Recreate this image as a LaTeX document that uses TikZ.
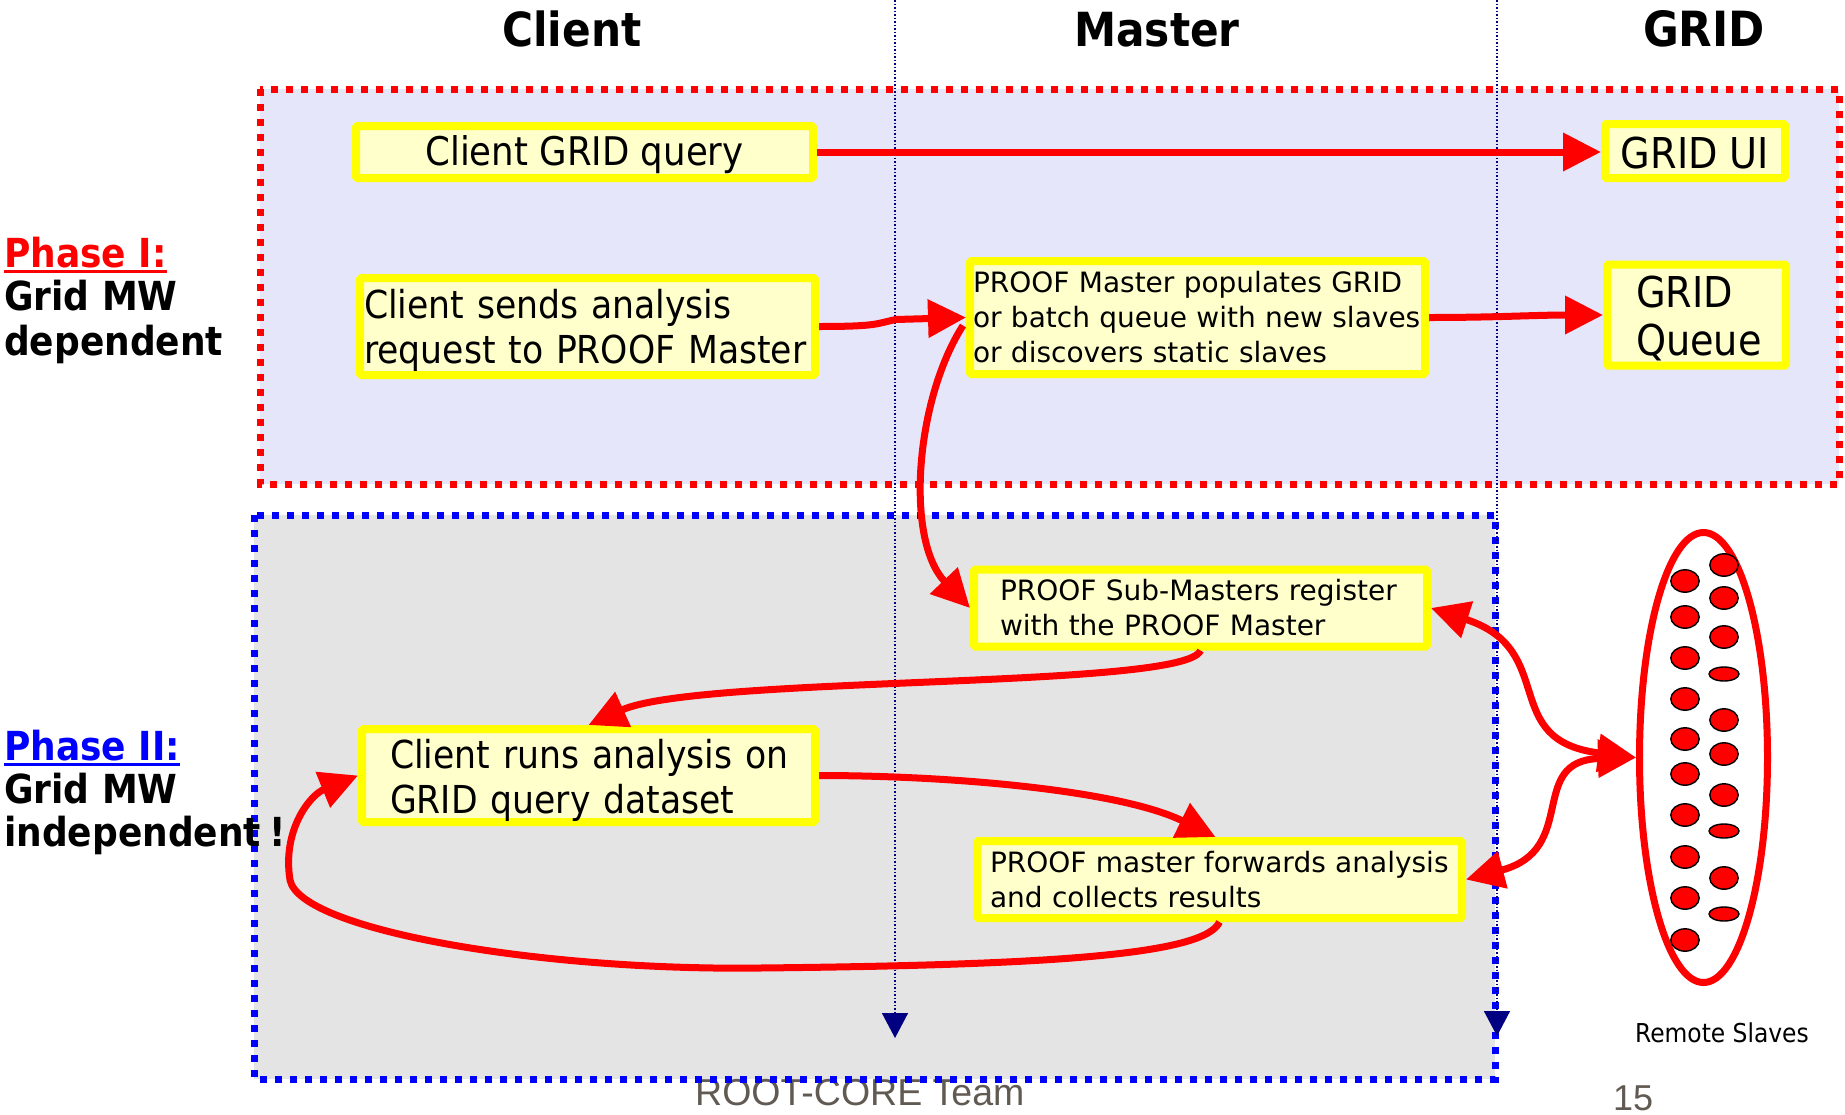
\documentclass[tikz,border=0pt]{standalone}
\usepackage{fontspec}
\setmainfont{DejaVu Sans Condensed}
\newfontfamily\arialf{Liberation Sans}
\newfontfamily\medfont{DejaVu Sans}
\usetikzlibrary{arrows.meta,shapes.geometric,calc}
\definecolor{lav}{RGB}{230,230,250}
\definecolor{lgray}{RGB}{228,228,228}
\definecolor{lyel}{RGB}{255,255,204}
\definecolor{ybord}{RGB}{255,255,0}
\definecolor{navyc}{RGB}{0,0,128}
\definecolor{footg}{RGB}{96,90,82}
\newcommand\myul[1]{\setbox0\hbox{#1}\rlap{\rule[-6pt]{\wd0}{3pt}}\box0}
\newcommand\lift[1]{\rule{0pt}{#1}}
\begin{document}
\begin{tikzpicture}[x=1pt,y=-1pt,
  ybox/.style={draw=ybord, fill=lyel, line width=8pt, rounded corners=1.5pt, inner ysep=0pt},
  bigf/.style={font=\fontsize{38.5}{45}\selectfont},
  gridf/.style={font=\fontsize{42.5}{48}\selectfont},
  medf/.style={font=\medfont\fontsize{28}{35}\selectfont},
  headf/.style={anchor=base, inner sep=0pt, font=\fontsize{47}{56}\selectfont\bfseries},
  phasef/.style={anchor=base west, inner sep=0pt, font=\fontsize{40}{45}\selectfont\bfseries},
  redarr/.style={draw=red, line width=7pt, -{Triangle[length=38pt,width=37pt]}},
  dblarr/.style={draw=red, line width=7pt, {Triangle[length=38pt,width=37pt]}-{Triangle[length=38pt,width=37pt]}},
  vline/.style={draw=navyc, line width=1.5pt, dash pattern=on 1.5pt off 2pt, -{Triangle[length=25pt,width=26pt]}},
  dotst/.style={fill=red, draw=black, line width=1.4pt},
  boxborder/.style={line width=7pt, dash pattern=on 7pt off 8pt}
]
\useasboundingbox (0,0) rectangle (1845,1114);

% phase regions
\fill[lav] (260,89) rectangle (1839,484);
\draw[red, boxborder] (260,89) rectangle (1839,484);
\fill[lgray] (254,515) rectangle (1495,1079);

% footer
\node[anchor=base west, inner sep=0pt, font=\arialf\fontsize{37.5}{44}\selectfont, text=footg] (foot) at (695,1105) {ROOT-CORE Team};
\node[anchor=base west, inner sep=0pt, font=\arialf\fontsize{36}{44}\selectfont, text=footg] (pg) at (1613,1110) {15};

\draw[blue, boxborder] (254,515) rectangle (1495,1079);

% swimlane lines
\coordinate (v1a) at (895,0);
\coordinate (v1b) at (895,1038);
\coordinate (v2a) at (1497,0);
\coordinate (v2b) at (1497,1036);
\draw[vline] (v1a) -- (v1b);
\draw[vline] (v2a) -- (v2b);

% headings
\node[headf] (hclient) at (572,46) {Client};
\node[headf] (hmaster) at (1157,46) {Master};
\node[headf, font=\fontsize{48.5}{56}\selectfont\bfseries] (hgrid) at (1704,46) {GRID};

% phase labels
\node[phasef, text=red] (p1a) at (4,267) {\myul{Phase I:}};
\node[phasef] (p1b) at (4,310) {Grid MW};
\node[phasef] (p1c) at (4,355) {dependent};
\node[phasef, text=blue] (p2a) at (4,760) {\myul{Phase II:}};
\node[phasef] (p2b) at (4,803) {Grid MW};
\node[phasef] (p2c) at (4,846) {independent\hspace{0.2em}!};

% boxes
\node[ybox, font=\fontsize{39.5}{45}\selectfont, minimum width=457pt, minimum height=52pt] (cgq) at (584.5,152) {\lift{35pt}Client GRID query};
\node[ybox, bigf, minimum width=455pt, minimum height=97pt, inner xsep=4pt, text width=447pt, align=left] (csend) at (587.5,326.5)
  {\mbox{\lift{36pt}Client sends analysis}\\\mbox{request to PROOF Master}};
\node[ybox, gridf, minimum width=180pt, minimum height=54pt] (gridui) at (1695,151) {\lift{36.5pt}GRID UI};
\node[ybox, medf, minimum width=455pt, minimum height=113pt, inner xsep=3pt, text width=449pt, align=left] (pop) at (1197.5,317.5)
  {\mbox{PROOF Master populates GRID}\\\mbox{or batch queue with new slaves}\\\mbox{or discovers static slaves}};
\node[ybox, gridf, minimum width=179pt, minimum height=101pt, inner xsep=29pt, text width=121pt, align=left] (gq) at (1696.5,315)
  {\mbox{\lift{38pt}GRID}\\\mbox{Queue}};
\node[ybox, medf, minimum width=453pt, minimum height=77pt, inner xsep=26pt, text width=401pt, align=left] (sub) at (1200.5,608)
  {\mbox{PROOF Sub-Masters register}\\\mbox{with the PROOF Master}};
\node[ybox, bigf, minimum width=453pt, minimum height=93pt, inner xsep=28pt, text width=397pt, align=left] (crun) at (588.5,775.5)
  {\mbox{\lift{38pt}Client runs analysis on}\\\mbox{GRID query dataset}};
\node[ybox, medf, minimum width=485pt, minimum height=77pt, inner xsep=13pt, text width=459pt, align=left] (fwd) at (1219.5,879.5)
  {\mbox{PROOF master forwards analysis}\\\mbox{and collects results}};

% remote slaves
\node[ellipse, draw=red, fill=white, line width=7pt, minimum width=128pt, minimum height=450pt, inner sep=0pt] (ell) at (1703.5,757.5) {};
\foreach \yy in {581,617,658,699,739,774,815,857,898,940}
  \draw[dotst] (1685,\yy) ellipse [x radius=14.2pt, y radius=11.2pt];
\foreach \yy in {565,598,637,720,754,795,878}
  \draw[dotst] (1724,\yy) ellipse [x radius=14.2pt, y radius=11.2pt];
\foreach \yy in {674,831,914}
  \draw[dotst] (1724,\yy) ellipse [x radius=15pt, y radius=7pt];
\node[anchor=base, inner sep=0pt, font=\fontsize{26}{30}\selectfont] (rs) at (1722,1042) {Remote Slaves};

% connectors
\draw[redarr] (cgq.east) -- (cgq.east -| gridui.west);
\draw[redarr] (csend.east) .. controls ($(csend.east)+(60,0)$) and ($(pop.west)+(-90,6)$) .. ($(pop.west)+(-70,2)$) -- (pop.west);
\draw[redarr] (pop.east) to[out=0,in=180] (gq.west);
\draw[redarr] ($(pop.west)+(-3,8)$) .. controls ($(pop.west)+(-51,83)$) and ($(sub.west)+(-65,-68)$) .. (sub.west);
\draw[redarr] (sub.south) .. controls ($(sub.south)+(-15,39)$) and ($(crun.north)+(111,-50)$) .. (crun.north);
\draw[redarr] (crun.east) .. controls ($(crun.east)+(131,0)$) and ($(fwd.north)+(-100,-47)$) .. ($(fwd.north)+(-4,0)$);
\draw[redarr] (fwd.south) .. controls ($(fwd.south)+(-15,33)$) and (1050,965) .. (760,968)
  .. controls (540,971) and (300,930) .. (290,880)
  .. controls (282,830) and (310,795) .. (crun.west);
\draw[dblarr] (sub.east) .. controls ($(sub.east)+(129,42)$) and ($(ell.west)+(-139,-17)$) .. (ell.west);
\draw[dblarr] (fwd.east) .. controls ($(fwd.east)+(114,-30)$) and ($(ell.west)+(-110,3)$) .. (ell.west);
\end{tikzpicture}
\end{document}
